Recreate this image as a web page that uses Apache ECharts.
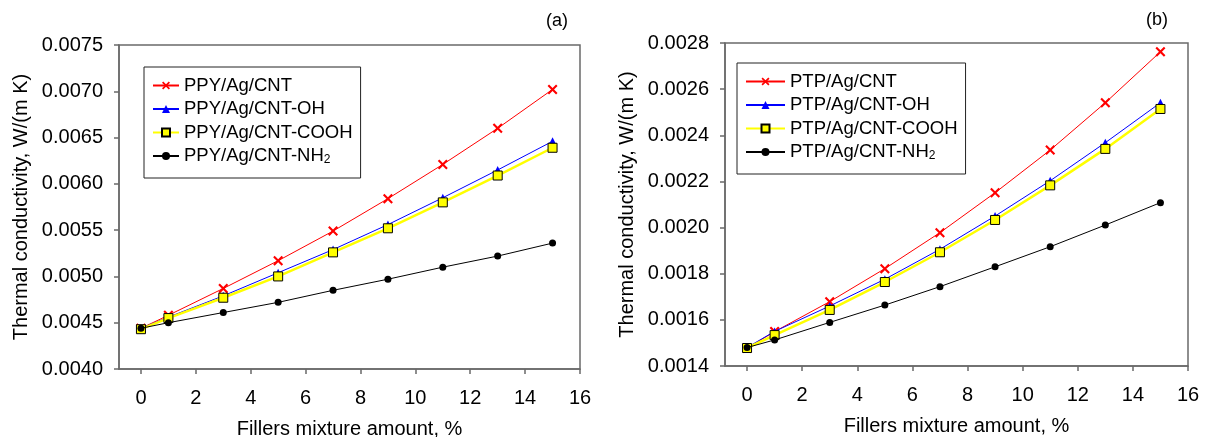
<!DOCTYPE html>
<html>
<head>
<meta charset="utf-8">
<script src="https://cdn.jsdelivr.net/npm/echarts@6/dist/echarts.min.js"></script>
<style>
html,body{margin:0;padding:0;background:#fff;}
#chart{width:1209px;height:437px;}
</style>
</head>
<body>
<div id="chart"></div>
<script>
// ---- data ----
const xValues = [0, 1, 3, 5, 7, 9, 11, 13, 15];
const xTicks = [0, 2, 4, 6, 8, 10, 12, 14, 16];

const namesA = ['PPY/Ag/CNT', 'PPY/Ag/CNT-OH', 'PPY/Ag/CNT-COOH', 'PPY/Ag/CNT-NH2'];
const ppyCNT   = [0.00444, 0.00458, 0.00487, 0.00517, 0.00549, 0.00584, 0.00621, 0.00660, 0.00702];
const ppyOH    = [0.00444, 0.00456, 0.00479, 0.00504, 0.00529, 0.00556, 0.00585, 0.00615, 0.00646];
const ppyCOOH  = [0.00443, 0.00455, 0.00477, 0.00500, 0.00526, 0.00552, 0.00580, 0.00609, 0.00639];
const ppyNH2   = [0.00444, 0.00450, 0.00461, 0.00472, 0.00485, 0.00497, 0.00510, 0.00522, 0.00536];

const namesB = ['PTP/Ag/CNT', 'PTP/Ag/CNT-OH', 'PTP/Ag/CNT-COOH', 'PTP/Ag/CNT-NH2'];
const ptpCNT   = [0.001477, 0.001549, 0.001679, 0.001822, 0.001978, 0.002151, 0.002336, 0.002541, 0.002762];
const ptpOH    = [0.001480, 0.001550, 0.001660, 0.001776, 0.001906, 0.002050, 0.002203, 0.002368, 0.002541];
const ptpCOOH  = [0.001478, 0.001534, 0.001643, 0.001764, 0.001893, 0.002033, 0.002183, 0.002341, 0.002514];
const ptpNH2   = [0.001480, 0.001513, 0.001589, 0.001664, 0.001744, 0.001830, 0.001917, 0.002011, 0.002108];

const yTicksA = {min: 0.0040, max: 0.0075, interval: 0.0005};
const yTicksB = {min: 0.0014, max: 0.0028, interval: 0.0002};

// ---- styling ----
const FONT = '"Liberation Sans", Arial, sans-serif';
const AXIS_COLOR = '#6a6a6a';
const crossPath = 'path://M0,1.5 L1.5,0 L5,3.5 L8.5,0 L10,1.5 L6.5,5 L10,8.5 L8.5,10 L5,6.5 L1.5,10 L0,8.5 L3.5,5 Z';

const styles = [
  {color: '#ff0000', symbol: crossPath, symbolSize: 10, lineWidth: 1, borderColor: '#ff0000', borderWidth: 0},
  {color: '#0000ff', symbol: 'triangle', symbolSize: 8, lineWidth: 1, borderColor: '#0000ff', borderWidth: 0},
  {color: '#ffff00', symbol: 'rect', symbolSize: 9, lineWidth: 2.5, borderColor: '#000000', borderWidth: 1},
  {color: '#000000', symbol: 'circle', symbolSize: 7, lineWidth: 1, borderColor: '#000000', borderWidth: 0}
];

function pairs(ys) { return xValues.map((x, i) => [x, ys[i]]); }

function makeSeries(names, datasets, idx) {
  return names.map((n, i) => ({
    name: n,
    type: 'line',
    xAxisIndex: idx,
    yAxisIndex: idx,
    data: pairs(datasets[i]),
    symbol: styles[i].symbol,
    symbolSize: styles[i].symbolSize,
    showAllSymbol: true,
    animation: false,
    z: 2 + i,
    lineStyle: {color: styles[i].color, width: styles[i].lineWidth},
    itemStyle: {color: styles[i].color, borderColor: styles[i].borderColor, borderWidth: styles[i].borderWidth, opacity: 1}
  }));
}

function xAxis(idx) {
  return {
    type: 'value', gridIndex: idx, min: -0.8, max: 16,
    name: 'Fillers mixture amount, %', nameLocation: 'middle', nameGap: 50,
    nameTextStyle: {fontFamily: FONT, fontSize: 20, color: '#000'},
    axisLine: {show: true, onZero: false, lineStyle: {color: AXIS_COLOR, width: 1.5}},
    axisTick: {show: true, inside: false, length: 5, customValues: xTicks, lineStyle: {color: AXIS_COLOR, width: 1.5}},
    axisLabel: {customValues: xTicks, margin: 19, fontFamily: FONT, fontSize: 20, color: '#000'},
    splitLine: {show: false}
  };
}
function yAxis(idx, t) {
  return {
    type: 'value', gridIndex: idx, min: t.min, max: t.max, interval: t.interval,
    name: 'Thermal conductivity, W/(m K)', nameLocation: 'middle', nameGap: 88, nameRotate: 90,
    nameTextStyle: {fontFamily: FONT, fontSize: 20, color: '#000'},
    axisLine: {show: true, onZero: false, lineStyle: {color: AXIS_COLOR, width: 1.5}},
    axisTick: {show: true, inside: false, length: 5, lineStyle: {color: AXIS_COLOR, width: 1.5}},
    axisLabel: {margin: 16, fontFamily: FONT, fontSize: 20, color: '#000', formatter: v => v.toFixed(4)},
    splitLine: {show: false}
  };
}

function legend(names, left, top, itemWidth) {
  return {
    data: names,
    orient: 'vertical',
    left: left, top: top,
    itemWidth: itemWidth, itemHeight: 10,
    itemGap: 4.5,
    padding: [9, 8, 12, 8],
    borderColor: '#222', borderWidth: 1,
    backgroundColor: '#fff',
    selectedMode: false,
    textStyle: {fontFamily: FONT, fontSize: 18.5, color: '#000',
      rich: {sub: {fontFamily: FONT, fontSize: 12, color: '#000', verticalAlign: 'bottom', padding: [8, 0, 0, 0]}}},
    formatter: n => n.endsWith('NH2') ? n.slice(0, -1) + '{sub|2}' : n
  };
}

const chart = echarts.init(document.getElementById('chart'), null, {renderer: 'canvas'});
chart.setOption({
  animation: false,
  backgroundColor: '#fff',
  title: [
    {text: '(a)', left: 546, top: 12, textStyle: {fontFamily: FONT, fontSize: 18, fontWeight: 'normal', color: '#000'}, padding: 0},
    {text: '(b)', left: 1146, top: 11, textStyle: {fontFamily: FONT, fontSize: 18, fontWeight: 'normal', color: '#000'}, padding: 0}
  ],
  grid: [
    {left: 119, top: 45, width: 461, height: 324, containLabel: false, outerBoundsMode: 'none', show: true, borderColor: AXIS_COLOR, borderWidth: 1.5, backgroundColor: 'transparent'},
    {left: 725, top: 43, width: 463, height: 323, containLabel: false, outerBoundsMode: 'none', show: true, borderColor: AXIS_COLOR, borderWidth: 1.5, backgroundColor: 'transparent'}
  ],
  xAxis: [xAxis(0), xAxis(1)],
  yAxis: [yAxis(0, yTicksA), yAxis(1, yTicksB)],
  legend: [legend(namesA, 144, 67, 26), legend(namesB, 737, 63, 39)],
  series: [
    ...makeSeries(namesA, [ppyCNT, ppyOH, ppyCOOH, ppyNH2], 0),
    ...makeSeries(namesB, [ptpCNT, ptpOH, ptpCOOH, ptpNH2], 1)
  ]
});
</script>
</body>
</html>
